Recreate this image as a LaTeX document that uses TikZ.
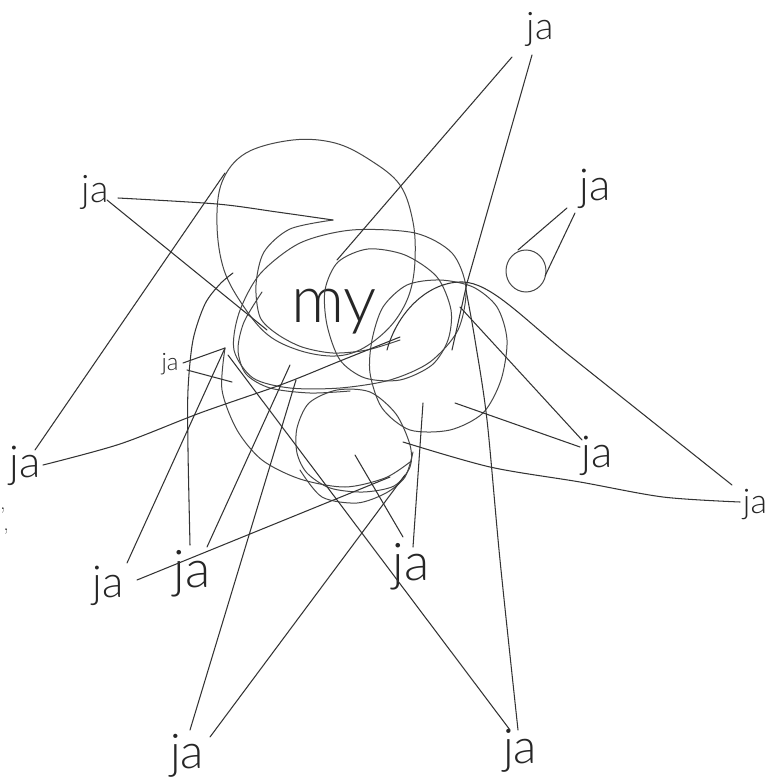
\documentclass[tikz,border=0pt]{standalone}
\usepackage{fontspec}
\newfontfamily\handfont{Lato}[UprightFont={* Light}]
\tikzset{
  stroke/.style={draw=black!80, line width=1.05pt, line cap=round, line join=round},
  curve/.style={draw=black!72, line width=1pt, line cap=round},
  lab/.style={font=\handfont\fontsize{#1}{#1}\selectfont, inner sep=0pt, anchor=base, text=black!85},
  commamark/.style={font=\rmfamily\fontsize{20}{20}\selectfont, inner sep=0pt, anchor=base, text=black!85},
}
\begin{document}
\begin{tikzpicture}[x=1pt,y=-1pt]
\useasboundingbox (0,0) rectangle (779,784);
\fill[white] (0,0) rectangle (779,784);

% ---------- labels ----------
\node[lab=38] (jaTop) at (540,40) {ja};
\node[lab=44] (jaUR)  at (595,200) {ja};
\node[lab=38] (jaL)   at (95,202) {ja};
\node[lab=24] (jaS)   at (170,370) {ja};
\node[lab=44] (jaLL)  at (25,477) {ja};
\node[lab=44] (jaRM)  at (597,467) {ja};
\node[lab=34] (jaFR)  at (755,513) {ja};
\node[lab=44] (jaA)   at (108,597) {ja};
\node[lab=52] (jaB)   at (192,587) {ja};
\node[lab=52] (jaC)   at (411,580) {ja};
\node[lab=48] (jaBL)  at (187,768) {ja};
\node[lab=48] (jaBR)  at (520,763) {ja};
\node[lab=66] (my)    at (334,322) {my};
\node[commamark] (cm1) at (3,509) {,};
\node[commamark] (cm2) at (6,530) {,};

% ---------- connector ends ----------
\coordinate (L1) at (118,198);   \coordinate (Sp) at (333,220);
\coordinate (L2) at (107,200);   \coordinate (L2e) at (267,330);
\coordinate (LL1) at (35,450);   \coordinate (LL1e) at (225,173);
\coordinate (S1) at (183,363);   \coordinate (Sa) at (225,348);
\coordinate (S2) at (187,370);   \coordinate (S2e) at (232,382);
\coordinate (A1) at (127,563);
\coordinate (A2) at (137,580);   \coordinate (A2e) at (390,477);
\coordinate (B1) at (207,547);   \coordinate (B1e) at (290,365);
\coordinate (C1) at (413,547);   \coordinate (C1e) at (423,403);
\coordinate (C2) at (403,537);   \coordinate (C2e) at (355,455);
\coordinate (BL1) at (190,730);  \coordinate (BL1e) at (296,380);
\coordinate (BL2) at (210,737);  \coordinate (BL2e) at (405,475);
\coordinate (BR1) at (510,730);  \coordinate (BR1e) at (228,355);
\coordinate (T1) at (512,57);    \coordinate (T1e) at (337,260);
\coordinate (T2) at (532,55);    \coordinate (T2m) at (467,283);  \coordinate (T2e) at (452,350);
\coordinate (U1) at (567,208);   \coordinate (U1e) at (518,250);
\coordinate (U2) at (575,213);   \coordinate (U2e) at (545,276);
\coordinate (ring) at (526,271);
\coordinate (R1) at (580,447);   \coordinate (R1e) at (455,403);
\coordinate (R2) at (582,440);   \coordinate (R2e) at (460,307);
\coordinate (F1) at (732,485);   \coordinate (F1m) at (565,352);

% ---------- loops ----------
\draw[curve] plot[smooth cycle, tension=0.6] coordinates {(293,140) (335,143) (370,160) (400,185) (413,222) (415,260) (410,292) (397,318) (378,338) (355,352) (330,356) (298,350) (268,335) (244,307) (224,270) (217,225) (222,182) (246,153)};
\draw[curve] plot[smooth cycle] coordinates {(300,243) (352,230) (415,233) (452,253) (466,288) (458,330) (430,362) (390,380) (340,388) (290,388) (253,378) (234,350) (239,313) (260,274)};
\draw[curve] plot[smooth] coordinates {(262,292) (244,322) (238,350) (246,374) (270,388) (310,393) (350,391)};
\draw[curve] plot[smooth cycle] coordinates {(325,290) (338,262) (368,249) (405,255) (437,277) (451,310) (448,340) (432,365) (400,380) (365,378) (340,360) (327,325)};
\draw[curve] plot[smooth cycle] coordinates {(383,307) (407,285) (440,280) (473,287) (497,307) (507,340) (501,380) (483,413) (450,430) (410,430) (382,408) (370,373) (372,340)};
\draw[curve] plot[smooth cycle] coordinates {(297,428) (309,403) (337,390) (370,392) (396,414) (410,445) (410,467) (394,486) (363,492) (330,488) (307,473) (297,453)};
\draw[curve] plot[smooth] coordinates {(300,470) (322,497) (357,503) (386,493) (405,477) (413,452)};
\draw[curve] plot[smooth] coordinates {(Sa) (222,390) (237,430) (262,460) (300,479) (345,487) (385,478) (410,462)};
\draw[curve] plot[smooth] coordinates {(Sp) (290,229) (264,252) (256,285) (260,317) (277,334) (302,347) (333,353) (367,350) (400,340)};
\draw[curve] (ring) circle[x radius=20pt, y radius=21pt];

% ---------- connectors ----------
\draw[stroke] plot[smooth] coordinates {(L1) (217,204) (277,212) (Sp)};
\draw[stroke] (L2) -- (L2e);
\draw[stroke] (LL1) -- (LL1e);
\draw[stroke] plot[smooth] coordinates {(43,465) (120,444) (200,413) (283,384) (340,361) (400,337)};
\draw[stroke] (S1) -- (Sa);
\draw[stroke] (S2) -- (S2e);
\draw[stroke] (Sa) -- (A1);
\draw[stroke] (A2) -- (A2e);
\draw[stroke] plot[smooth] coordinates {(190,545) (188,450) (188,390) (193,340) (205,304) (220,284) (233,273)};
\draw[stroke] (B1) -- (B1e);
\draw[stroke] (C1) -- (C1e);
\draw[stroke] (C2) -- (C2e);
\draw[stroke] (BL1) -- (BL1e);
\draw[stroke] (BL2) -- (BL2e);
\draw[stroke] (BR1) -- (BR1e);
\draw[stroke] plot[smooth] coordinates {(518,730) (500,560) (487,420) (475,340) (466,290)};
\draw[stroke] (T1) -- (T1e);
\draw[stroke] (T2) -- (T2m) -- (T2e);
\draw[stroke] (U1) -- (U1e);
\draw[stroke] (U2) -- (U2e);
\draw[stroke] (R1) -- (R1e);
\draw[stroke] (R2) -- (R2e);
\draw[stroke] (F1) -- (F1m) .. controls (520,315) and (490,283) .. (463,282) .. controls (430,281) and (398,310) .. (387,350);
\draw[stroke] plot[smooth] coordinates {(740,502) (663,497) (580,482) (490,467) (403,442)};
\end{tikzpicture}
\end{document}
